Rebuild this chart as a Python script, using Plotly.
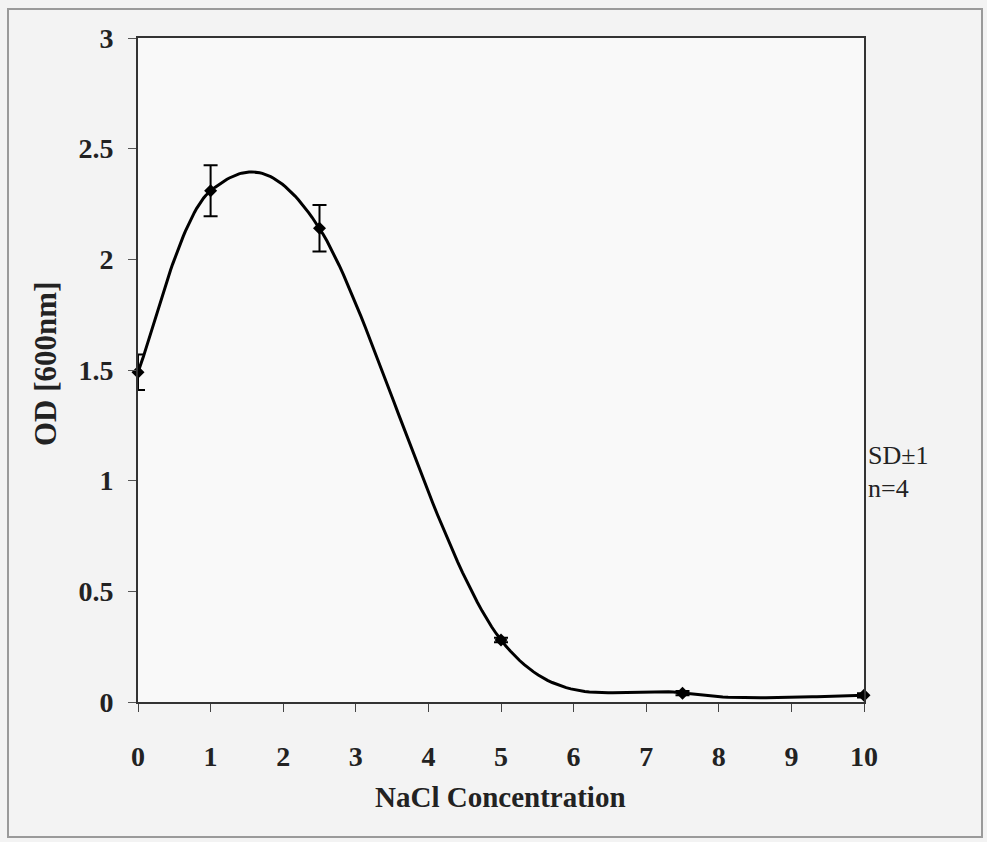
import numpy as np
import plotly.graph_objects as go

nacl = [0, 1, 2.5, 5, 7.5, 10]
od = [1.49, 2.31, 2.14, 0.28, 0.04, 0.03]
sd = [0.08, 0.115, 0.105, 0.01, 0.01, 0.01]
x_ticks = [0, 1, 2, 3, 4, 5, 6, 7, 8, 9, 10]
y_ticks = [0, 0.5, 1, 1.5, 2, 2.5, 3]
y_tick_text = ["0", "0.5", "1", "1.5", "2", "2.5", "3"]


def smoothed_curve(xs, ys, n=40):
    """Spreadsheet-style smoothed line: cubic Bezier segments through the data points."""
    p = np.column_stack([np.asarray(xs, float), np.asarray(ys, float)])
    m = len(p)
    out = []
    for i in range(m - 1):
        prev = p[i - 1] if i > 0 else p[i]
        nxt = p[i + 2] if i + 2 < m else p[i + 1]
        b0 = p[i]
        b1 = p[i] + (p[i + 1] - prev) / 6.0
        b2 = p[i + 1] - (nxt - p[i]) / 6.0
        b3 = p[i + 1]
        t = np.linspace(0, 1, n)[:, None]
        seg = ((1 - t) ** 3) * b0 + 3 * t * (1 - t) ** 2 * b1 + 3 * t ** 2 * (1 - t) * b2 + t ** 3 * b3
        out.append(seg if i == 0 else seg[1:])
    c = np.vstack(out)
    return c[:, 0], c[:, 1]


cx, cy = smoothed_curve(nacl, od)

W, H = 987, 842
L, R, T, B = 138, 864, 38, 702
pw, ph = R - L, B - T


def px(x):
    return (x - L) / pw


def py(y):
    return (B - y) / ph


serif = "Liberation Serif, Times New Roman, serif"

fig = go.Figure()
fig.add_trace(go.Scatter(
    x=cx, y=cy, mode="lines",
    line=dict(color="black", width=3),
    hoverinfo="skip", showlegend=False, cliponaxis=False,
))
fig.add_trace(go.Scatter(
    x=nacl, y=od, mode="markers",
    marker=dict(symbol="diamond", size=10, color="black"),
    error_y=dict(type="data", array=sd, visible=True, color="black", thickness=2, width=7),
    showlegend=False, cliponaxis=False,
))

fig.update_layout(
    width=W, height=H,
    margin=dict(l=L, r=W - R, t=T, b=H - B),
    paper_bgcolor="#f3f3f3",
    plot_bgcolor="#f9f9f9",
    font=dict(family=serif, color="#222"),
    xaxis=dict(
        range=[0, 10], tickvals=x_ticks, ticks="outside", ticklen=8, tickcolor="#444",
        tickfont=dict(family=serif, size=28, color="#222", weight="bold"),
        showgrid=False, zeroline=False, showline=True, linecolor="#333", linewidth=2,
        mirror=True, ticklabelstandoff=20,
    ),
    yaxis=dict(
        range=[0, 3], tickvals=y_ticks, ticktext=y_tick_text, ticks="outside", ticklen=8,
        tickcolor="#555",
        tickfont=dict(family=serif, size=28, color="#222", weight="bold"),
        showgrid=False, zeroline=False, showline=True, linecolor="#333", linewidth=2,
        mirror=True, ticklabelstandoff=9,
    ),
    shapes=[dict(
        type="rect", xref="paper", yref="paper",
        x0=px(8), x1=px(982), y0=py(837), y1=py(9),
        line=dict(color="#9a9a9a", width=2), fillcolor="rgba(0,0,0,0)", layer="below",
    )],
    annotations=[
        dict(text="NaCl Concentration", xref="paper", yref="paper",
             x=px(500), y=py(797), xanchor="center", yanchor="middle", showarrow=False,
             font=dict(family=serif, size=29, color="#222", weight="bold")),
        dict(text="OD [600nm]", xref="paper", yref="paper",
             x=px(45), y=py(364), xanchor="center", yanchor="middle", showarrow=False,
             textangle=-90, font=dict(family=serif, size=31, color="#222", weight="bold")),
        dict(text="SD±1", xref="paper", yref="paper",
             x=px(866), y=py(455), xanchor="left", yanchor="middle", showarrow=False,
             font=dict(family=serif, size=26, color="#222")),
        dict(text="n=4", xref="paper", yref="paper",
             x=px(866), y=py(488), xanchor="left", yanchor="middle", showarrow=False,
             font=dict(family=serif, size=26, color="#222")),
    ],
)

fig.write_html("out.html")
